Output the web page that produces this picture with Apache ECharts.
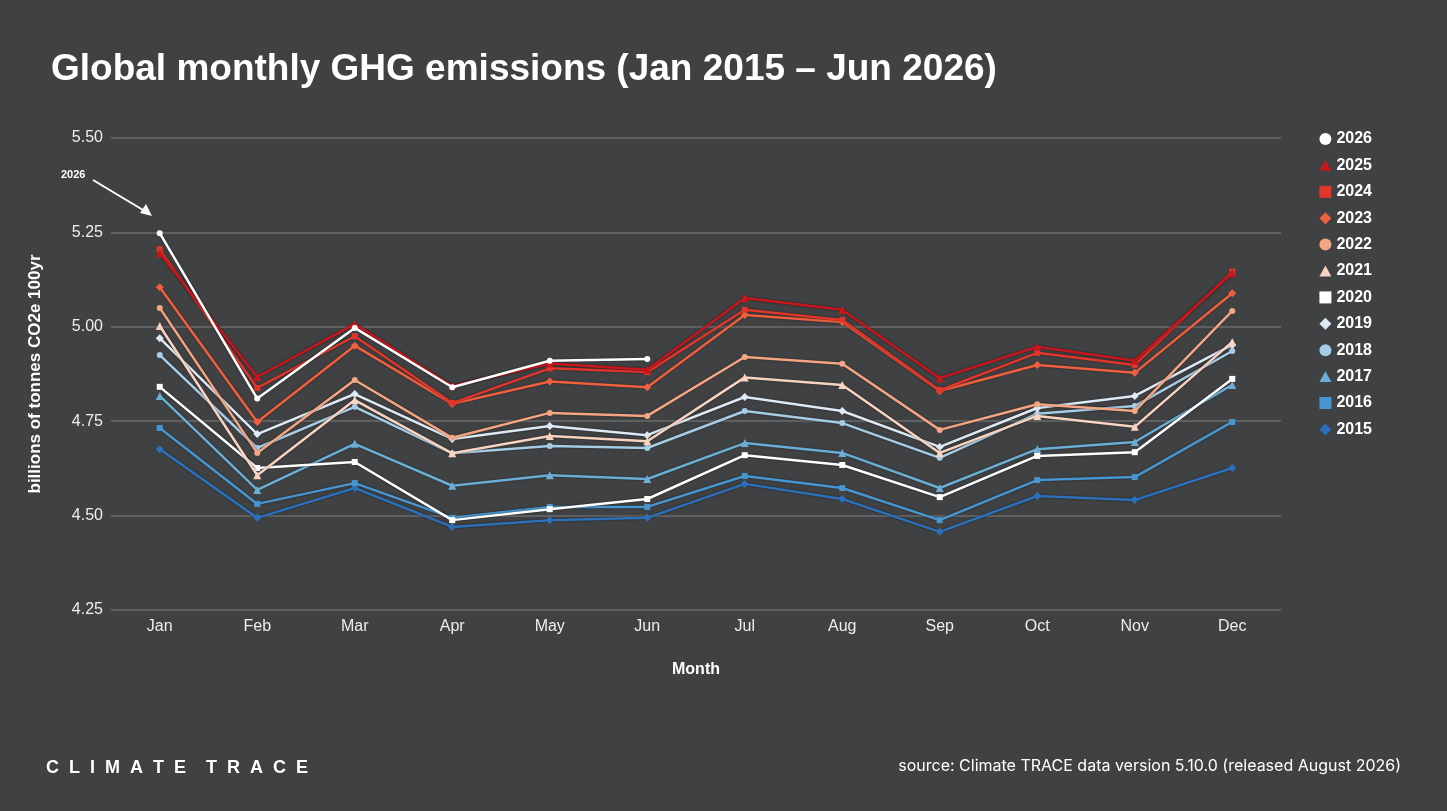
<!DOCTYPE html>
<html>
<head>
<meta charset="utf-8">
<script src="https://cdn.jsdelivr.net/npm/echarts@6/dist/echarts.min.js"></script>
<style>
html,body{margin:0;padding:0;background:#404143;}
#chart{width:1447px;height:811px;}
</style>
</head>
<body>
<div id="chart"></div>
<script>
const months = ['Jan','Feb','Mar','Apr','May','Jun','Jul','Aug','Sep','Oct','Nov','Dec'];
const years = ['2026','2025','2024','2023','2022','2021','2020','2019','2018','2017','2016','2015'];

const y2026 = [5.248, 4.810, 4.997, 4.840, 4.910, 4.915];
const y2025 = [5.195, 4.867, 5.007, 4.843, 4.903, 4.886, 5.076, 5.045, 4.864, 4.947, 4.910, 5.142];
const y2024 = [5.205, 4.838, 4.975, 4.798, 4.890, 4.880, 5.045, 5.018, 4.832, 4.931, 4.899, 5.146];
const y2023 = [5.105, 4.748, 4.950, 4.796, 4.855, 4.840, 5.031, 5.013, 4.830, 4.899, 4.878, 5.089];
const y2022 = [5.050, 4.666, 4.859, 4.706, 4.772, 4.764, 4.920, 4.902, 4.727, 4.795, 4.777, 5.042];
const y2021 = [5.002, 4.607, 4.806, 4.665, 4.711, 4.697, 4.866, 4.846, 4.666, 4.764, 4.735, 4.960];
const y2020 = [4.841, 4.626, 4.642, 4.488, 4.517, 4.544, 4.660, 4.634, 4.549, 4.658, 4.668, 4.862];
const y2019 = [4.970, 4.716, 4.822, 4.703, 4.737, 4.713, 4.814, 4.777, 4.682, 4.785, 4.817, 4.952];
const y2018 = [4.925, 4.679, 4.788, 4.665, 4.684, 4.679, 4.777, 4.745, 4.653, 4.770, 4.790, 4.936];
const y2017 = [4.817, 4.568, 4.690, 4.579, 4.607, 4.597, 4.692, 4.666, 4.573, 4.676, 4.695, 4.846];
const y2016 = [4.732, 4.531, 4.586, 4.494, 4.523, 4.523, 4.605, 4.573, 4.488, 4.594, 4.602, 4.748];
const y2015 = [4.676, 4.494, 4.573, 4.470, 4.488, 4.494, 4.584, 4.544, 4.457, 4.552, 4.541, 4.626];

const yTicks = [4.25, 4.50, 4.75, 5.00, 5.25, 5.50];

const seriesData = [y2026, y2025, y2024, y2023, y2022, y2021, y2020, y2019, y2018, y2017, y2016, y2015];
const colors = ['#ffffff','#c8161d','#e2362b','#f0603f','#f4a582','#f9d3c1','#ffffff','#dde9f5','#a6cde5','#6aaed6','#4896cf','#2b70b8'];
const symbols = ['circle','triangle','rect','diamond','circle','triangle','rect','diamond','circle','triangle','rect','diamond'];

const FONT = 'Liberation Sans, Arial, sans-serif';
const chart = echarts.init(document.getElementById('chart'));
const series = years.map((y, i) => ({
  name: y,
  type: 'line',
  data: seriesData[i],
  z: 20 - i,
  symbol: symbols[i],
  symbolSize: symbols[i] === 'triangle' ? 8 : (symbols[i] === 'diamond' ? 8 : 6),
  showAllSymbol: true,
  itemStyle: { color: colors[i] },
  lineStyle: { width: 2.5, color: colors[i], shadowColor: 'rgba(0,0,0,0.55)', shadowBlur: 2 },
  emphasis: { disabled: true },
  animation: false
}));

const legendIcons = {
  circle: 'path://M6,1A5,5 0 1,1 5.99,1Z',
  triangle: 'path://M6,1L11,10L1,10Z',
  rect: 'path://M1.5,1.5L10.5,1.5L10.5,10.5L1.5,10.5Z',
  diamond: 'path://M6,0.5L11.5,6L6,11.5L0.5,6Z'
};

chart.setOption({
  backgroundColor: '#404143',
  animation: false,
  title: {
    text: 'Global monthly GHG emissions (Jan 2015 – Jun 2026)',
    left: 46, top: 46,
    textStyle: { color: '#ffffff', fontSize: 37, fontWeight: 'bold', fontFamily: FONT }
  },
  legend: {
    orient: 'vertical',
    right: 70, top: 126,
    itemGap: 10.4,
    itemWidth: 12, itemHeight: 16,
    data: years.map((y, i) => ({ name: y, icon: symbols[i] === 'circle' ? 'circle' : legendIcons[symbols[i]] })),
    textStyle: { color: '#ffffff', fontSize: 16, fontWeight: 'bold', fontFamily: FONT },
    selectedMode: false
  },
  grid: { left: 111, right: 166, top: 138, bottom: 201 },
  xAxis: {
    type: 'category',
    data: months,
    name: 'Month',
    nameLocation: 'middle',
    nameGap: 52,
    nameTextStyle: { color: '#ffffff', fontSize: 16, fontWeight: 'bold', fontFamily: FONT },
    axisLine: { show: false },
    axisTick: { show: false },
    axisLabel: { color: '#ededed', fontSize: 16, margin: 9, fontFamily: FONT }
  },
  yAxis: {
    type: 'value',
    min: yTicks[0], max: yTicks[yTicks.length - 1], interval: 0.25,
    name: 'billions of tonnes CO2e 100yr',
    nameLocation: 'middle',
    nameGap: 67,
    nameTextStyle: { color: '#ffffff', fontSize: 17, fontWeight: 'bold', fontFamily: FONT },
    axisLine: { show: false },
    axisTick: { show: false },
    axisLabel: { color: '#ededed', fontSize: 16, margin: 8, formatter: v => v.toFixed(2), fontFamily: FONT },
    splitLine: { lineStyle: { color: '#6a6b6d', width: 1.5 } }
  },
  graphic: [
    { type: 'text', left: 61, top: 169, style: { text: '2026', fill: '#ffffff', font: 'bold 11px ' + FONT } },
    { type: 'line', shape: { x1: 93, y1: 180, x2: 148, y2: 213 }, style: { stroke: '#ffffff', lineWidth: 2 } },
    { type: 'polygon', shape: { points: [[152, 216], [140, 213], [146, 204]] }, style: { fill: '#ffffff' } },
    { type: 'text', left: 46, top: 759, style: { text: 'C  L  I  M  A  T  E    T  R  A  C  E', fill: '#ffffff', font: 'bold 18px ' + FONT } },
    { type: 'text', right: 46, top: 758, style: { text: 'source: Climate TRACE data version 5.10.0 (released August 2026)', fill: '#ffffff', font: '16px Inter, Liberation Sans, Arial, sans-serif' } }
  ],
  series: series
});
</script>
</body>
</html>
